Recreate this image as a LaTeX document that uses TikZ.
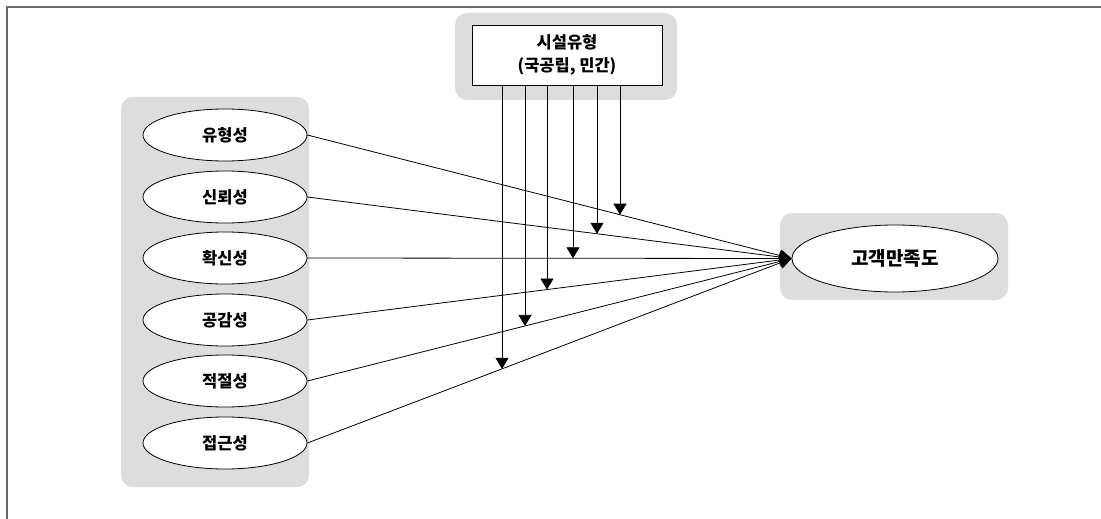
\documentclass[tikz,border=0pt]{standalone}
\usepackage{fontspec}
\newfontfamily\kr{Noto Sans CJK KR}
\usetikzlibrary{arrows.meta,shapes.geometric,calc,intersections}
\definecolor{panel}{RGB}{221,221,221}
\definecolor{framegray}{RGB}{105,105,105}
\begin{document}
\begin{tikzpicture}[x=1pt,y=-1pt,
  panelbox/.style={fill=panel,rounded corners=12pt},
  factor/.style={ellipse,draw=black,line width=0.8pt,fill=white,minimum width=164pt,minimum height=52pt,inner sep=0pt,font=\kr\bfseries\fontsize{16.5}{20}\selectfont},
  goalbox/.style={ellipse,draw=black,line width=0.8pt,fill=white,minimum width=206pt,minimum height=67pt,inner sep=0pt,font=\kr\bfseries\fontsize{19}{23}\selectfont},
  typebox/.style={rectangle,draw=black,line width=0.8pt,fill=white,minimum width=190pt,minimum height=60pt,inner sep=0pt,align=center,font=\kr\bfseries\fontsize{16.5}{23}\selectfont},
  link/.style={line width=0.8pt,-{Triangle[width=12pt,length=12pt]}},
  modlink/.style={line width=0.8pt,-{Triangle[width=13pt,length=11pt]}}]
\useasboundingbox (0,0) rectangle (1101,519);
\fill[white] (0,0) rectangle (1101,519);
\draw[framegray,line width=2pt] (6.5,519) -- (6.5,7.5) -- (1101,7.5);
% panels
\path[panelbox] (121,97) rectangle (309,487);
\path[panelbox] (455,13) rectangle (677,100);
\path[panelbox] (780,213) rectangle (1008,300);
% nodes
\node[typebox] (type) at (567,55) {시설유형\\(국공립, 민간)};
\node[factor] (f1) at (225,135) {유형성};
\node[factor] (f2) at (225,197) {신뢰성};
\node[factor] (f3) at (225,258) {확신성};
\node[factor] (f4) at (225,320) {공감성};
\node[factor] (f5) at (225,381) {적절성};
\node[factor] (f6) at (225,443) {접근성};
\node[goalbox] (goal) at (895,258.5) {고객만족도};
% main links
\foreach \i in {1,...,6}{
  \draw[link] (f\i.east) -- (goal.west);
}
% moderator links
\coordinate (g) at (goal.west);
\foreach \k/\dx in {1/-65,2/-42,3/-20,4/6,5/30,6/53}{
  \coordinate (s\k) at ($(type.south)+(\dx,0)$);
  \coordinate (b\k) at ($(type.south)+(\dx,400)$);
}
\path[name path=v1] (s1) -- (b1);
\path[name path=v2] (s2) -- (b2);
\path[name path=v3] (s3) -- (b3);
\path[name path=v4] (s4) -- (b4);
\path[name path=v5] (s5) -- (b5);
\path[name path=v6] (s6) -- (b6);
\path[name path=l6] (f6.east) -- (g);
\path[name path=l5] (f5.east) -- (g);
\path[name path=l4] (f4.east) -- (g);
\path[name path=l3] (f3.east) -- (g);
\path[name path=l2] (f2.east) -- (g);
\path[name path=l1] (f1.east) -- (g);
\path[name intersections={of=v1 and l6, by=t1}];
\path[name intersections={of=v2 and l5, by=t2}];
\path[name intersections={of=v3 and l4, by=t3}];
\path[name intersections={of=v4 and l3, by=t4}];
\path[name intersections={of=v5 and l2, by=t5}];
\path[name intersections={of=v6 and l1, by=t6}];
\foreach \k in {1,...,6}{
  \draw[modlink] (s\k) -- (t\k);
}
\end{tikzpicture}
\end{document}
